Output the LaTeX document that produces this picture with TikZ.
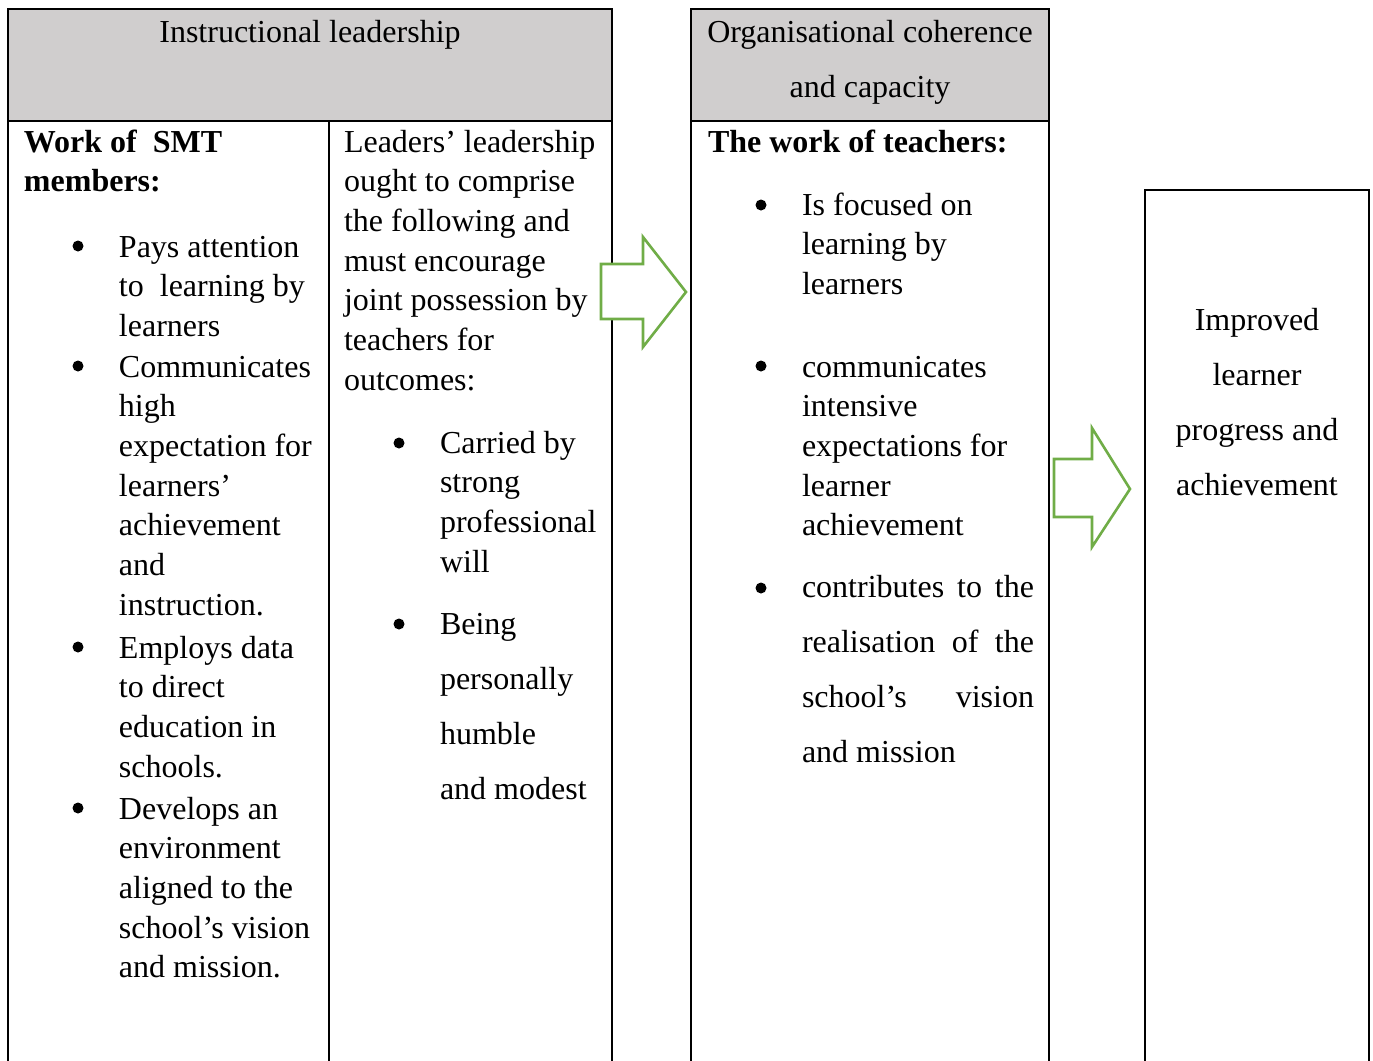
\documentclass[tikz,border=0pt]{standalone}
\usepackage{fontspec}
\setmainfont{Liberation Serif}
\usetikzlibrary{positioning}
\definecolor{headgray}{HTML}{D0CECE}
\definecolor{arrowgreen}{HTML}{70AD47}
\newcommand{\singlesp}{\fontsize{16}{19.85}\selectfont}
\newcommand{\widesp}{\fontsize{16}{27.5}\selectfont}
\newcommand{\plainspaces}{\spaceskip=0pt\xspaceskip=0pt\relax}

\begin{document}
\begin{tikzpicture}[x=0.5pt,y=-0.5pt,line width=1pt,
    entry/.style={anchor=base west,inner sep=0pt,align=left,text width=200pt,font=\singlesp,execute at begin node={\plainspaces}},
    wide entry/.style={entry,font=\widesp},
    dot/.style={circle,fill,inner sep=0pt,minimum size=5.5pt},
    header/.style={anchor=base,inner sep=0pt,align=flush center,text width=170pt,font=#1,execute at begin node={\plainspaces}},
    block arrow/.style={draw=arrowgreen,fill=white,line width=1.3pt,line join=miter}]
    \useasboundingbox (0,0) rectangle (1373,1061);

    % boxes
    \fill[headgray] (8,9) rectangle (612,121);
    \fill[headgray] (691,9) rectangle (1049,121);
    \draw (8,1061) -- (8,9) -- (612,9) -- (612,1061);
    \draw (8,121) -- (612,121);
    \draw (329,121) -- (329,1061);
    \draw (691,1061) -- (691,9) -- (1049,9) -- (1049,1061);
    \draw (691,121) -- (1049,121);
    \draw[line width=1.3pt] (1145,1061) -- (1145,190) -- (1369,190) -- (1369,1061);

    % instructional leadership
    \node[header=\singlesp] (il) at (310,42) {Instructional leadership};
    \node[entry,font=\bfseries\singlesp] (smt) at (23,152) {Work of\ \ SMT\\members:};
    \node[dot] (b1) at (78,246) {};
    \node[entry] (t1) at (118,257) {Pays attention\\to\ \ learning by\\learners};
    \node[dot] (b2) at (78,366) {};
    \node[entry] (t2) at (118,377) {Communicates\\high\\expectation for\\learners’\\achievement\\and\\instruction.};
    \node[dot] (b3) at (78,647) {};
    \node[entry] (t3) at (118,658) {Employs data\\to direct\\education in\\schools.};
    \node[dot] (b4) at (78,808) {};
    \node[entry] (t4) at (118,819) {Develops an\\environment\\aligned to the\\school’s vision\\and mission.};

    \node[entry] (lead) at (343,152) {Leaders’ leadership\\ought to comprise\\the following and\\must encourage\\joint possession by\\teachers for\\outcomes:};
    \node[dot] (b5) at (399,443) {};
    \node[entry] (t5) at (439,453) {Carried by\\strong\\professional\\will};
    \node[dot] (b6) at (399,624) {};
    \node[wide entry] (t6) at (439,634) {Being\\personally\\humble\\and modest};

    % organisational coherence
    \node[header=\widesp] (oc) at (870,42) {Organisational coherence\\and capacity};
    \node[entry,font=\bfseries\singlesp] (wt) at (707,152) {The work of teachers:};
    \node[dot] (b7) at (761,205) {};
    \node[entry] (t7) at (801,215) {Is focused on\\learning by\\learners};
    \node[dot] (b8) at (761,366) {};
    \node[entry] (t8) at (801,377) {communicates\\intensive\\expectations for\\learner\\achievement};
    \node[dot] (b9) at (761,588) {};
    \node[wide entry] (t9) at (801,597) {\makebox[116pt][s]{contributes to the}\\\makebox[116pt][s]{realisation of the}\\\makebox[116pt][s]{school’s vision}\\and mission};

    % outcome
    \node[header=\widesp,text width=110pt] (out) at (1257,330) {Improved\\learner\\progress and\\achievement};

    % arrows
    \draw[block arrow] (601,264) -- (643,264) -- (643,237) -- (686,292) -- (643,347) -- (643,319) -- (601,319) -- cycle;
    \draw[block arrow] (1054,459) -- (1092,459) -- (1092,428) -- (1130,489) -- (1092,547) -- (1092,517) -- (1054,517) -- cycle;
\end{tikzpicture}
\end{document}
